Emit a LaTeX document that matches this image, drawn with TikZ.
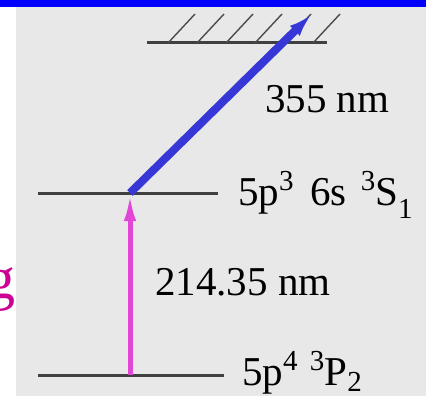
\documentclass[tikz,border=0pt]{standalone}
\usepackage{fontspec}
\usepackage{xcolor}
\usepackage{tikz}
\usetikzlibrary{arrows.meta,positioning}
\setmainfont{Liberation Serif}
\definecolor{barblue}{RGB}{0,0,255}
\definecolor{paper}{RGB}{232,232,232}
\definecolor{photonblue}{RGB}{55,55,215}
\definecolor{pumppink}{RGB}{225,70,215}
\definecolor{edgemagenta}{RGB}{205,0,150}
\newcommand{\supidx}[1]{\raisebox{15pt}{\fontsize{29}{30}\selectfont #1}}
\newcommand{\subidx}[2][13pt]{\raisebox{-#1}{\fontsize{29}{30}\selectfont #2}}

\begin{document}
\begin{tikzpicture}[
  x=1pt, y=-1pt,
  every node/.style={inner sep=0pt, font=\fontsize{41}{45}\selectfont},
  level/.style={draw=black!75, line width=3pt},
  hatch/.style={draw=black!70, line width=1.4pt},
  uvarrow/.style={-{Latex[length=24pt,width=14pt]}, line width=8pt, draw=photonblue},
  pumparrow/.style={-{Latex[length=30pt,width=12pt]}, line width=5pt, draw=pumppink},
  label/.style={anchor=base west}
]
\useasboundingbox (0,0) rectangle (426,396);
\fill[white] (0,0) rectangle (426,396);
\fill[paper] (16,7) rectangle (426,396);
\fill[barblue] (0,0) rectangle (426,7);
% clipped letter at the left edge
\begin{scope}
  \clip (0,250) rectangle (16,330);
  \node[anchor=base east, text=edgemagenta, font=\fontsize{60}{64}\selectfont] (edge) at (16,298) {g};
\end{scope}
% levels
\draw[level] (147,43) -- (327,43);
\foreach \hx in {168,197,226,255,284,313}
  \draw[hatch] (\hx,43) -- ++(27,-29);
\draw[level] (38,193) -- (218,193);
\draw[level] (38,375) -- (224,375);
\coordinate (ground) at (130,375);
\coordinate (excited) at (130,193);
\coordinate (continuum) at (312,14);
\coordinate (pumptip) at (130,191);
% transitions
\draw[pumparrow] (ground) -- (pumptip);
\draw[uvarrow] (excited) -- (continuum);
% labels
\node[label] (uv) at (265,112) {355 nm};
\node[label] (upper) at (238,205) {5p\supidx{3}\hspace{0.4em}6s\hspace{0.35em}\supidx{3}S\subidx{1}};
\node[label] (pump) at (155,295) {214.35 nm};
\node[label] (lower) at (242,385) {5p\supidx{4}\hspace{0.3em}\supidx{3}P\subidx[6pt]{2}};
\end{tikzpicture}
\end{document}
